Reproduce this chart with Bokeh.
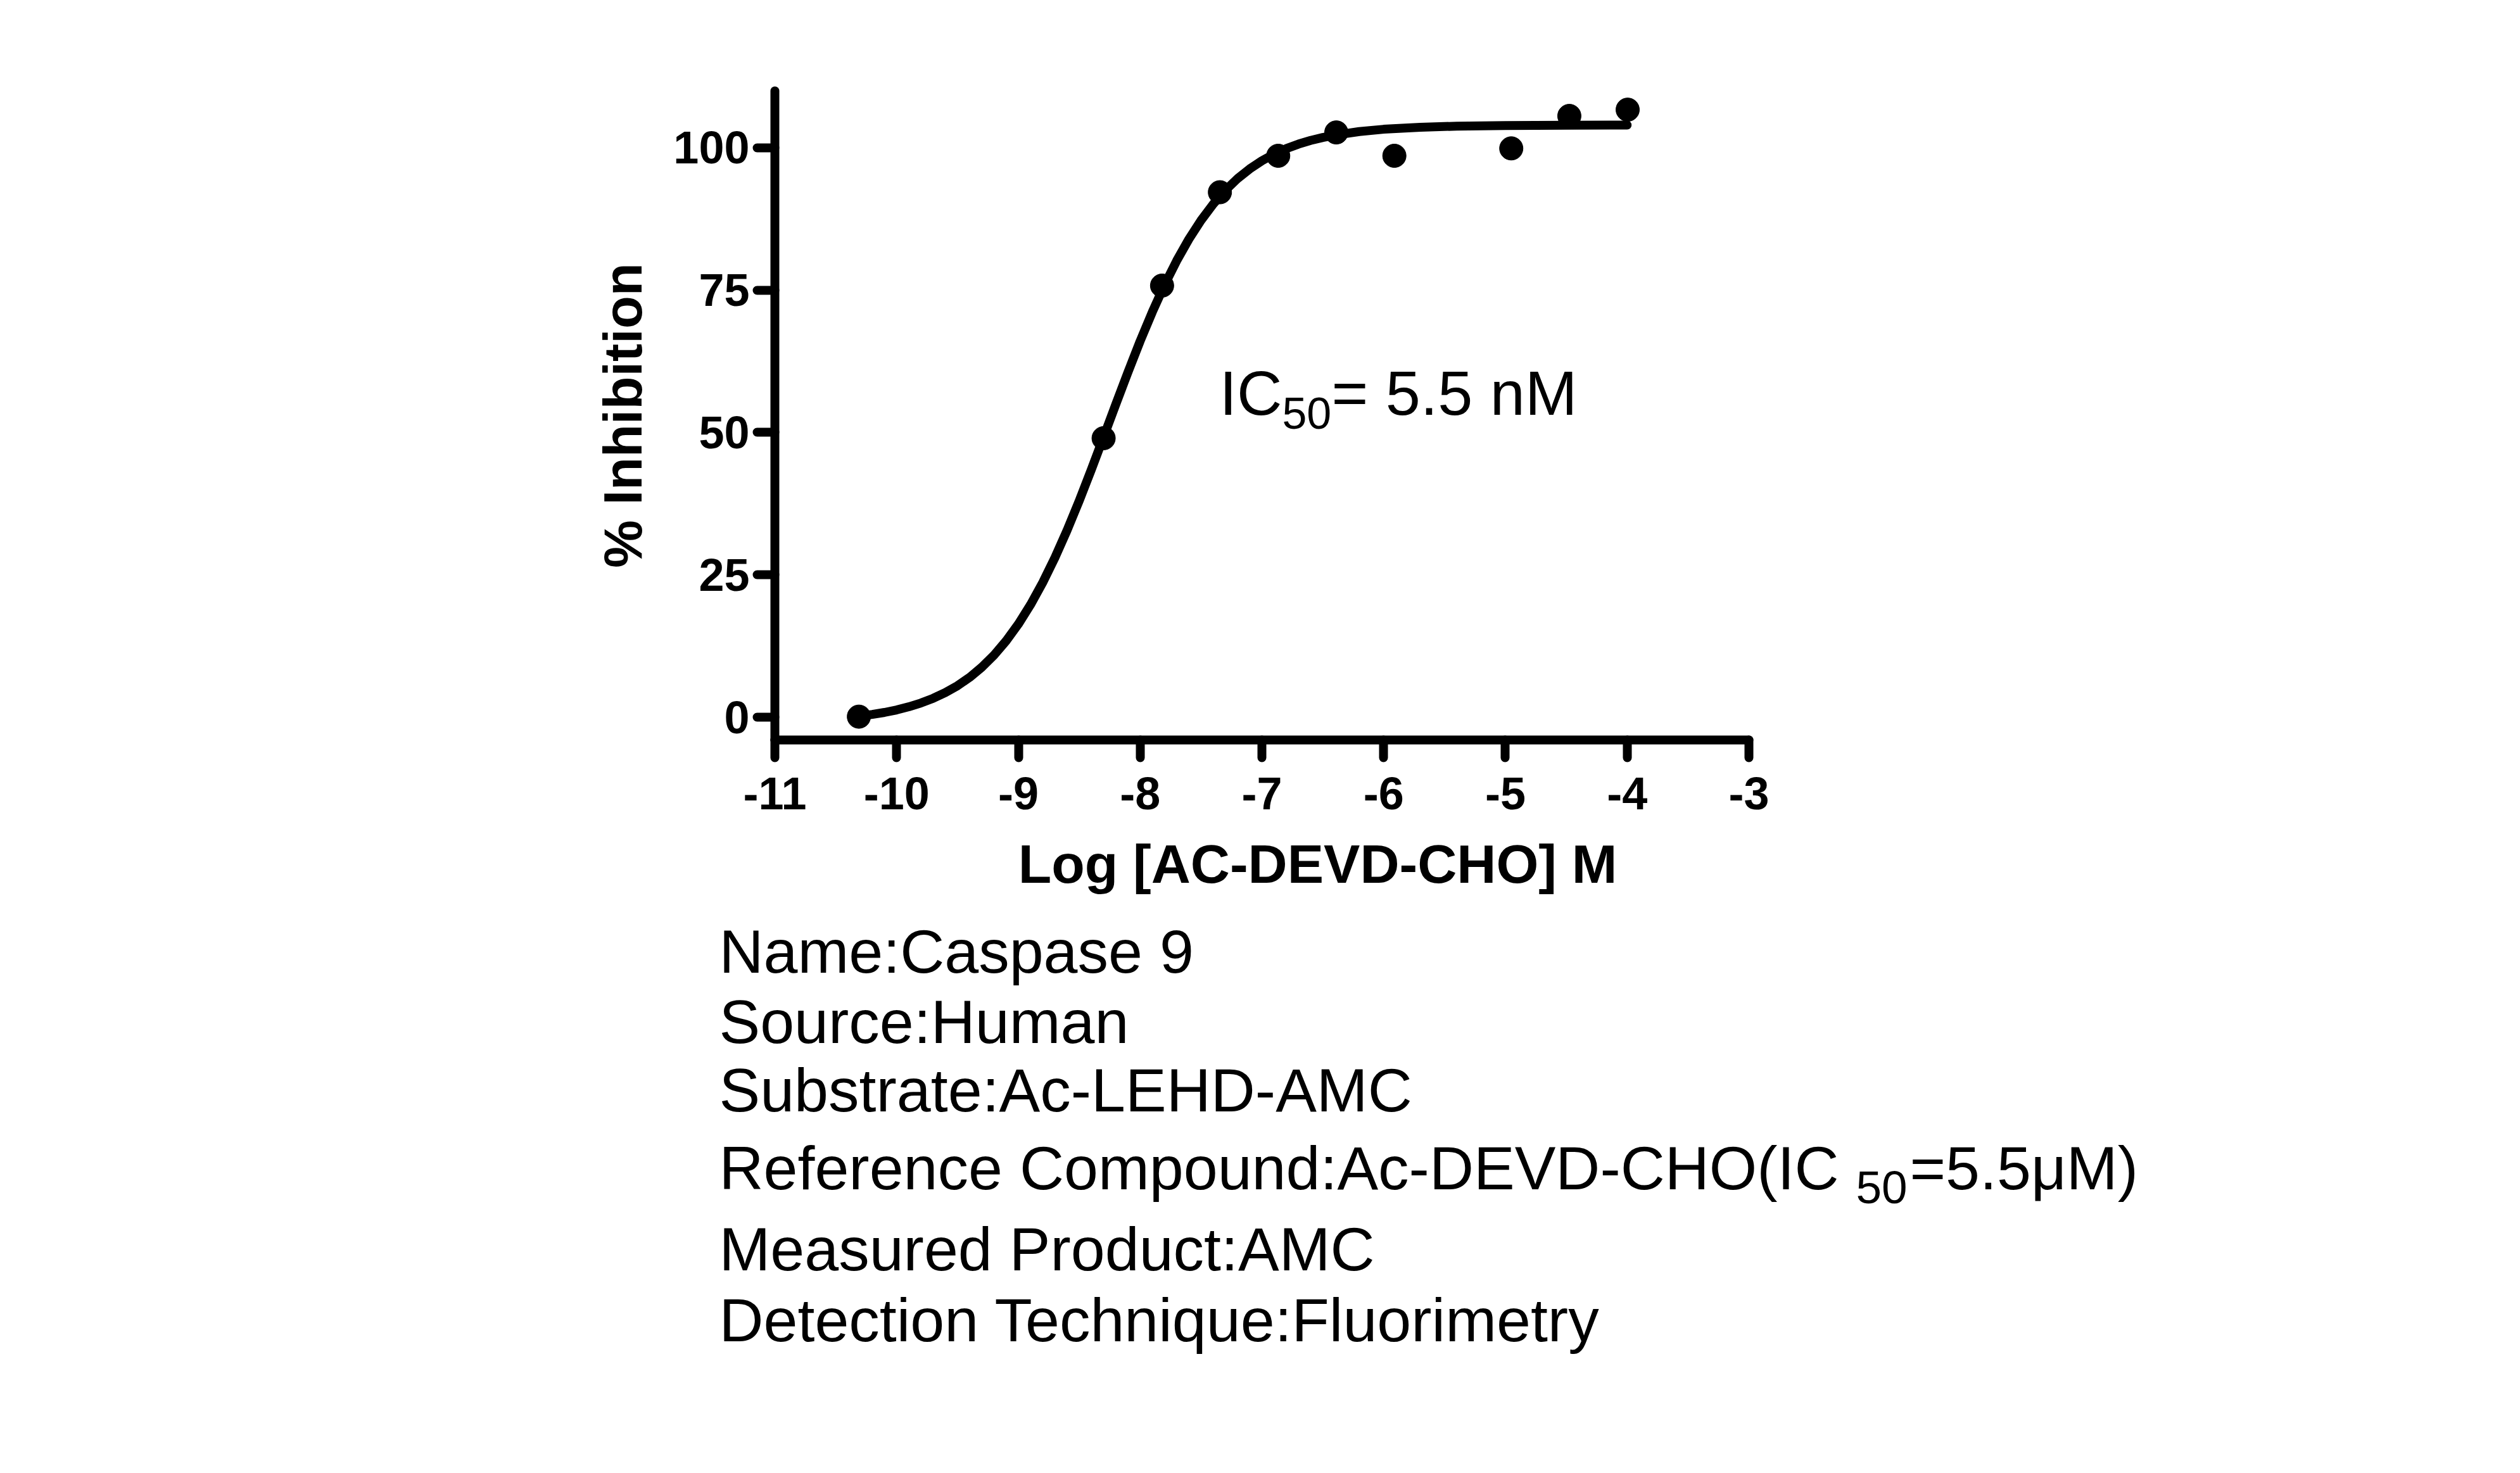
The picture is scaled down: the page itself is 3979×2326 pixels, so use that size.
from bokeh.plotting import figure
from bokeh.models import Label, FixedTicker, Range1d
from bokeh.embed import file_html
from bokeh.resources import INLINE

# ---- data ----
log_conc = [-10.31, -8.30, -7.82, -7.345, -6.866, -6.389, -5.912, -4.952, -4.475, -3.996]
inhibition = [0.1, 49.0, 75.8, 92.2, 98.6, 102.7, 98.6, 99.9, 105.6, 106.7]

# fitted curve at regular x positions
fit_x = [-10.31, -10.2, -10.1, -10.0, -9.9, -9.8, -9.7, -9.6, -9.5, -9.4, -9.3, -9.2, -9.1,
         -9.0, -8.9, -8.8, -8.7, -8.6, -8.5, -8.4, -8.3, -8.2, -8.1, -8.0, -7.9, -7.8,
         -7.7, -7.6, -7.5, -7.4, -7.3, -7.2, -7.1, -7.0, -6.9, -6.8, -6.7, -6.6, -6.5,
         -6.4, -6.2, -6.0, -5.7, -5.4, -5.0, -4.5, -4.0]
fit_y = [0.17, 0.49, 0.84, 1.28, 1.83, 2.50, 3.32, 4.32, 5.53, 7.01, 8.79, 10.91, 13.42,
         16.36, 19.77, 23.66, 28.02, 32.83, 38.03, 43.53, 49.21, 54.94, 60.58, 66.05, 71.16, 75.89,
         80.16, 83.95, 87.26, 90.11, 92.54, 94.59, 96.30, 97.73, 98.90, 99.86, 100.65, 101.29, 101.81,
         102.23, 102.86, 103.26, 103.61, 103.80, 103.92, 103.97, 103.99]

x_ticks = [-11, -10, -9, -8, -7, -6, -5, -4, -3]
x_tick_labels = ["-11", "-10", "-9", "-8", "-7", "-6", "-5", "-4", "-3"]
y_ticks = [0, 25, 50, 75, 100]
y_tick_labels = ["0", "25", "50", "75", "100"]
x_axis_span = (-11, -3)
y_axis_span = (-4, 110)

x_title = "Log [AC-DEVD-CHO] M"
y_title = "% Inhibition"
ic50_main = "IC"
ic50_sub = "50"
ic50_rest = "= 5.5 nM"

info_lines = [
    "Name:Caspase 9",
    "Source:Human",
    "Substrate:Ac-LEHD-AMC",
    "Reference Compound:Ac-DEVD-CHO(IC",
    "Measured Product:AMC",
    "Detection Technique:Fluorimetry",
]
ref_sub = "50"
ref_rest = "=5.5\u03bcM)"

FONT = "Liberation Sans"

# The frame covers almost the whole canvas so that the texts under the chart
# are not clipped; the axes are drawn at fixed data locations with bounds.
p = figure(width=3960, height=2320,
           x_range=Range1d(-15.2809, 3.2367), y_range=Range1d(-114.33, 125.905),
           output_backend="svg", toolbar_location=None,
           min_border_left=400, min_border_right=0,
           min_border_top=0, min_border_bottom=160)
p.outline_line_color = None
p.grid.visible = False
p.background_fill_color = "white"
p.border_fill_color = "white"

for ax in (p.xaxis[0], p.yaxis[0]):
    ax.axis_line_width = 14
    ax.axis_line_color = "black"
    ax.axis_line_cap = "round"
    ax.major_tick_line_width = 14
    ax.major_tick_line_color = "black"
    ax.major_tick_line_cap = "round"
    ax.major_tick_out = 28
    ax.major_tick_in = 0
    ax.minor_tick_line_color = None
    ax.major_label_text_font = FONT
    ax.major_label_text_font_style = "bold"
    ax.major_label_text_font_size = "72px"
    ax.major_label_text_color = "black"

p.xaxis.fixed_location = y_axis_span[0]
p.xaxis.bounds = x_axis_span
p.xaxis.ticker = FixedTicker(ticks=x_ticks)
p.xaxis.major_label_overrides = {t: s for t, s in zip(x_ticks, x_tick_labels)}
p.xaxis.major_label_standoff = 31

p.yaxis.fixed_location = x_axis_span[0]
p.yaxis.bounds = y_axis_span
p.yaxis.ticker = FixedTicker(ticks=y_ticks)
p.yaxis.major_label_overrides = {t: s for t, s in zip(y_ticks, y_tick_labels)}
p.yaxis.major_label_standoff = 12
p.yaxis.axis_label = y_title
p.yaxis.axis_label_text_font = FONT
p.yaxis.axis_label_text_font_style = "bold"
p.yaxis.axis_label_text_font_size = "85px"
p.yaxis.axis_label_text_color = "black"
p.yaxis.axis_label_standoff = 29

p.line(fit_x, fit_y, line_width=14, color="black", line_cap="round", line_join="round")
p.scatter(log_conc, inhibition, size=37, color="black")


def lab(text, x, y, size, style="normal", x_offset=0, align="left"):
    p.add_layout(Label(x=x, y=y, text=text, x_offset=x_offset,
                       text_font=FONT, text_font_size=size, text_font_style=style,
                       text_color="black", text_align=align, text_baseline="middle"))


# IC50 annotation
lab(ic50_main, -7.349, 56.93, "99px")
lab(ic50_sub, -7.349, 53.40, "70px", x_offset=99)
lab(ic50_rest, -7.349, 56.93, "99px", x_offset=177)

# x axis title (not centred on the axis in the reference)
lab(x_title, -6.542, -25.71, "86px", "bold", align="center")

# information block
info_x = -11.458
info_y = [-41.14, -53.49, -65.50, -79.18, -93.42, -105.87]
for s, yy in zip(info_lines, info_y):
    lab(s, info_x, yy, "97px")
lab(ref_sub, -2.121, -82.63, "73px")
lab(ref_rest, -1.679, -79.18, "97px")

open("out.html", "w").write(file_html(p, INLINE))
